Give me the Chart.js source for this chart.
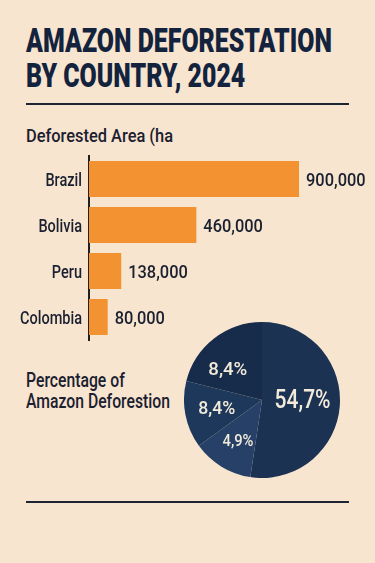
<!DOCTYPE html>
<html>
<head>
<meta charset="utf-8">
<script src="https://cdn.jsdelivr.net/npm/chart.js@4.4.1/dist/chart.umd.min.js"></script>
<style>
  html, body { margin: 0; padding: 0; }
  body { width: 375px; height: 563px; background: #f7e5cf; position: relative; overflow: hidden;
         font-family: Roboto, "Liberation Sans", sans-serif; color: #1b2030; }
  .abs { position: absolute; }
  .cond { display: block; transform-origin: 0 0; white-space: nowrap; width: max-content; }
  #title { left: 26px; top: 24.25px; font-size: 32.8px; line-height: 34.5px; font-weight: 900; color: #13233d; }
  .rule { left: 26px; width: 323px; height: 2px; background: #1d2433; }
  #sub { left: 26px; top: 125.7px; font-size: 19px; line-height: 19px; font-weight: 500; }
  #pieText { left: 26px; top: 369.9px; font-size: 20.5px; line-height: 21.6px; font-weight: 500; }
  #barWrap { left: 0; top: 150px; width: 375px; height: 200px; }
  #pieWrap { left: 184px; top: 322px; width: 156px; height: 156px; }
</style>
</head>
<body>
<div id="title" class="abs"><span id="t1" class="cond">AMAZON DEFORESTATION</span><span id="t2" class="cond">BY COUNTRY, 2024</span></div>
<div class="abs rule" style="top:103px"></div>
<div id="sub" class="abs"><span id="s1" class="cond">Deforested Area (ha</span></div>
<div id="barWrap" class="abs"><canvas id="bar"></canvas></div>
<div id="pieText" class="abs"><span id="p1" class="cond">Percentage of</span><span id="p2" class="cond">Amazon Deforestion</span></div>
<div id="pieWrap" class="abs"><canvas id="pie"></canvas></div>
<div class="abs rule" style="top:501px"></div>
<script>
// ---- data ----
const countries = ['Brazil', 'Bolivia', 'Peru', 'Colombia'];
const areaValues = [900000, 460000, 138000, 80000];
const areaLabels = ['900,000', '460,000', '138,000', '80,000'];
const pieLabels = ['54,7%', '4,9%', '8,4%', '8,4%'];
const pieShares = [52.4, 12.6, 13.9, 21.1]; // slice sizes as drawn in the picture

// ---- condense HTML text to the reference widths ----
function condense(ids, refId, target) {
  const w = document.getElementById(refId).getBoundingClientRect().width;
  const s = target / w;
  ids.forEach(id => { document.getElementById(id).style.transform = 'scaleX(' + s + ')'; });
}
condense(['t1', 't2'], 't1', 306);
condense(['s1'], 's1', 147);
condense(['p1', 'p2'], 'p2', 144);

const FONT = 'Roboto, "Liberation Sans", sans-serif';
const ink = '#1b2030';

function condText(ctx, text, x, y, align, sx) {
  ctx.save();
  ctx.translate(x, y);
  ctx.scale(sx, 1);
  ctx.textAlign = align;
  ctx.fillText(text, 0, 0);
  ctx.restore();
}
function fitScale(ctx, font, sample, target) {
  ctx.save();
  ctx.font = font;
  const w = ctx.measureText(sample).width;
  ctx.restore();
  return target / w;
}

// ---- bar chart ----
const xMax = 1160000;
const barTextPlugin = {
  id: 'barText',
  afterDraw(chart) {
    const ctx = chart.ctx;
    const meta = chart.getDatasetMeta(0);
    const yScale = chart.scales.y;
    ctx.save();
    ctx.fillStyle = ink;
    ctx.textBaseline = 'alphabetic';
    // category labels (y-axis ticks)
    const catFont = '500 19px ' + FONT;
    const cs = fitScale(ctx, catFont, 'Colombia', 62);
    ctx.font = catFont;
    chart.data.labels.forEach((lab, i) => {
      condText(ctx, lab, 82, yScale.getPixelForTick(i) + 7, 'right', cs);
    });
    // value labels
    const valFont = '500 18.5px ' + FONT;
    const vs = fitScale(ctx, valFont, '460,000', 59.6);
    ctx.font = valFont;
    meta.data.forEach((bar, i) => {
      condText(ctx, areaLabels[i], bar.x + 7, bar.y + 7, 'left', vs);
    });
    ctx.restore();
  }
};
new Chart(document.getElementById('bar'), {
  type: 'bar',
  data: {
    labels: countries,
    datasets: [{ data: areaValues, backgroundColor: '#f39231', borderWidth: 0,
                 categoryPercentage: 1, barPercentage: 0.78 }]
  },
  options: {
    indexAxis: 'y',
    responsive: true, maintainAspectRatio: false, animation: false,
    layout: { padding: { top: 6, bottom: 10, left: 0, right: 15.3 } },
    plugins: { legend: { display: false }, tooltip: { enabled: false } },
    scales: {
      x: { display: false, min: 0, max: xMax },
      y: {
        afterFit(s) { s.width = 89; },
        grid: { display: false },
        border: { display: true, color: '#1f1f24', width: 2 },
        ticks: { display: false }
      }
    }
  },
  plugins: [barTextPlugin]
});

// ---- pie chart ----
const pieLabelPlugin = {
  id: 'pieLabels',
  afterDatasetsDraw(chart) {
    const ctx = chart.ctx;
    const meta = chart.getDatasetMeta(0);
    const sizes = [25, 17, 18.5, 18.5];
    const widths = [56, 31, 37, 39];
    const factors = [0.52, 0.61, 0.59, 0.59];
    const nudges = [-3, -1, 0, -10]; // degrees
    ctx.save();
    ctx.fillStyle = '#f3ebda';
    ctx.textBaseline = 'middle';
    meta.data.forEach((arc, i) => {
      const p = arc.getProps(['x', 'y', 'startAngle', 'endAngle', 'outerRadius']);
      const mid = (p.startAngle + p.endAngle) / 2 + nudges[i] * Math.PI / 180;
      const r = p.outerRadius * factors[i];
      const f = '500 ' + sizes[i] + 'px ' + FONT;
      const s = fitScale(ctx, f, pieLabels[i], widths[i]);
      ctx.font = f;
      condText(ctx, pieLabels[i], p.x + Math.cos(mid) * r, p.y + Math.sin(mid) * r + 1, 'center', s);
    });
    ctx.restore();
  }
};
new Chart(document.getElementById('pie'), {
  type: 'pie',
  data: {
    labels: pieLabels,
    datasets: [{ data: pieShares, borderWidth: 0,
                 backgroundColor: ['#1b3253', '#264068', '#1e385b', '#172b4a'] }]
  },
  options: {
    responsive: true, maintainAspectRatio: false, animation: false,
    layout: { padding: 0 },
    plugins: { legend: { display: false }, tooltip: { enabled: false } }
  },
  plugins: [pieLabelPlugin]
});
</script>
</body>
</html>
